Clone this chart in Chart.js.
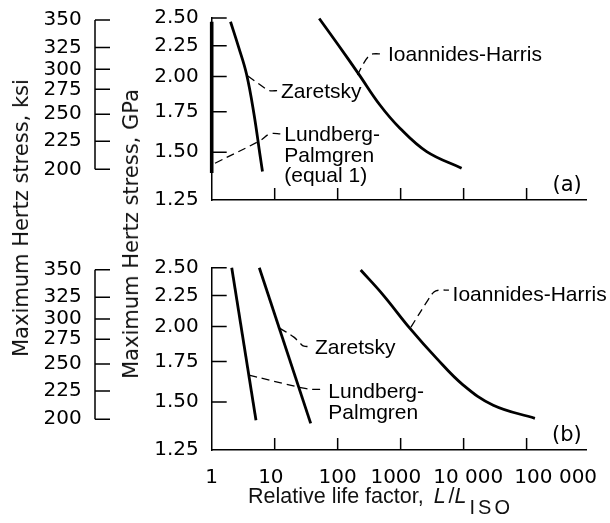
<!DOCTYPE html>
<html>
<head>
<meta charset="utf-8">
<script src="https://cdn.jsdelivr.net/npm/chart.js@4.4.1/dist/chart.umd.min.js"></script>
<style>
  body { margin: 0; background: #fff; }
  #wrap { position: relative; width: 610px; height: 523px; overflow: hidden; background: #fff; }
  canvas { position: absolute; left: 0; }
  #cA { top: 0; }
  #cB { top: 240px; }
  .ytitle {
    position: absolute; font: 21px "DejaVu Sans"; line-height: 24px; color: #111;
    white-space: nowrap; transform: translate(-50%, -50%) rotate(-90deg);
  }
  #xtitle {
    position: absolute; left: 248px; top: 484px; font: 21.5px "Liberation Sans";
    line-height: 24px; color: #111; white-space: nowrap;
  }
  #xtitle i { letter-spacing: 3px; }
  #xtitle i:first-child { margin-left: 4px; }
  #xtitle span { position: relative; top: 11px; font-size: 20px; letter-spacing: 3px; }
</style>
</head>
<body>
<div id="wrap">
  <canvas id="cA" width="610" height="240"></canvas>
  <canvas id="cB" width="610" height="283"></canvas>
  <div class="ytitle" style="left:20.5px; top:217.5px">Maximum Hertz stress, ksi</div>
  <div class="ytitle" style="left:130.5px; top:234px">Maximum Hertz stress, GPa</div>
  <div id="xtitle">Relative life factor, <i>L</i>/<i>L</i><span>ISO</span></div>
</div>
<script>
// ---- data: relative life L/L_ISO vs max Hertz stress (GPa) ----
// panel (a)
const lpA_L  = [1, 1];
const lpA_S  = [2.465, 1.385];
const zarA_L = [1.99, 2.66, 3.57, 4.69, 5.84, 6.40];
const zarA_S = [2.465, 2.242, 2.020, 1.735, 1.485, 1.393];
const ihA_L  = [51, 101, 212, 469, 975, 2590, 9290];
const ihA_S  = [2.495, 2.26, 2.025, 1.795, 1.643, 1.503, 1.411];
// panel (b)
const lpB_L  = [2.08, 5.05];
const lpB_S  = [2.50, 1.40];
const zarB_L = [5.7, 37.3];
const zarB_S = [2.50, 1.383];
const ihB_L  = [232, 529, 1406, 3726, 9860, 29500, 135500];
const ihB_S  = [2.478, 2.253, 1.985, 1.771, 1.600, 1.482, 1.410];

// ---- axes ----
const gpaTicks    = [1.25, 1.50, 1.75, 2.00, 2.25, 2.50];
const ksiLabels   = ['350', '325', '300', '275', '250', '225', '200'];
const ksiAtGpa    = [2.48, 2.235, 2.056, 1.905, 1.733, 1.564, 1.405];
const xTicks      = [10, 100, 1000, 10000, 100000];
const xTickLabels = ['1', '10', '100', '1000', '10 000', '100 000'];
const xLabelAt    = [1, 8.7, 100, 840, 11800, 290000];   // labels are spread out in the original

// ---- leader lines and notes (data units) ----
const zarA_lead = { L: [3.75, 7.02, 8.12, 11.5], S: [2.005, 1.913, 1.896, 1.896] };
const lpA_lead  = { L: [1.128, 5.84, 8.42, 12.9], S: [1.438, 1.567, 1.608, 1.608] };
const ihA_lead  = { L: [206, 261, 314, 363, 505], S: [2.012, 2.107, 2.163, 2.18, 2.18] };
const zarB_lead = { L: [12.0, 20.2, 25.2, 29.2, 39.1], S: [1.987, 1.920, 1.877, 1.855, 1.855] };
const lpB_lead  = { L: [3.9, 22.4, 30.3, 41.0, 59.1], S: [1.662, 1.590, 1.580, 1.574, 1.574] };
const ihB_lead  = { L: [1457, 2712, 3380, 4055, 5846], S: [1.995, 2.210, 2.280, 2.295, 2.295] };

const notesA = [
  { text: ['Zaretsky'], at: [12.6, 1.896] },
  { text: ['Lundberg-', 'Palmgren', '(equal 1)'], at: [14.2, 1.608] },
  { text: ['Ioannides-Harris'], at: [629, 2.18] }
];
const notesB = [
  { text: ['Zaretsky'], at: [43.6, 1.855] },
  { text: ['Lundberg-', 'Palmgren'], at: [71, 1.567] },
  { text: ['Ioannides-Harris'], at: [6680, 2.265] }
];

const INK = '#000';
const X_MAX = 9e5;

function pts(L, S) {
    return L.map((v, i) => ({ x: v, y: S[i] }));
}

function curve(L, S, width) {
    return {
        data: pts(L, S), borderColor: INK, borderWidth: width || 2.8,
        pointRadius: 0, tension: 0, clip: false
    };
}

function smooth(L, S) {
    return Object.assign(curve(L, S), { tension: 0.4 });
}

function leader(d) {
    return {
        data: pts(d.L, d.S), borderColor: INK, borderWidth: 1.3,
        borderDash: [8, 5], pointRadius: 0, tension: 0.4, clip: false
    };
}

// no extra room for the end labels, the layout padding handles it
function noOverflow(s) {
    s.paddingTop = 0; s.paddingBottom = 0; s.paddingLeft = 0; s.paddingRight = 0;
}

const decor = {
    id: 'decor',
    afterDraw(chart, args, o) {
        const { ctx, chartArea: a, scales } = chart;
        const x = scales.x, y = scales.y, k = scales.ksi;
        ctx.save();
        ctx.strokeStyle = INK;
        ctx.lineWidth = 1.5;
        ctx.beginPath();
        // inward ticks
        gpaTicks.slice(1).forEach(v => {
            const py = y.getPixelForValue(v);
            ctx.moveTo(a.left, py); ctx.lineTo(a.left + 15, py);
        });
        xTicks.forEach(v => {
            const px = x.getPixelForValue(v);
            ctx.moveTo(px, a.bottom); ctx.lineTo(px, a.bottom - 12);
        });
        // ksi bracket
        const kTop = k.getPixelForValue(ksiAtGpa[0]);
        const kBot = k.getPixelForValue(ksiAtGpa[ksiAtGpa.length - 1]);
        ctx.moveTo(k.right, kTop); ctx.lineTo(k.right, kBot);
        ksiAtGpa.forEach(v => {
            const py = k.getPixelForValue(v);
            ctx.moveTo(k.right, py); ctx.lineTo(k.right + 15, py);
        });
        ctx.stroke();

        ctx.fillStyle = INK;
        ctx.textBaseline = 'alphabetic';
        ctx.font = '21px "Liberation Sans"';
        o.notes.forEach(n => {
            const px = x.getPixelForValue(n.at[0]);
            const py = y.getPixelForValue(n.at[1]);
            n.text.forEach((t, i) => ctx.fillText(t, px, py + 7.5 + i * 20.5));
        });
        ctx.font = '21px "DejaVu Sans"';
        ctx.textAlign = 'right';
        ctx.fillText(o.tag, a.right - 5, a.bottom - 17 + 7.7);
        ctx.restore();
    }
};

function makePanel(id, datasets, notes, tag, showX, padTop, xAxisHeight) {
    const tickFont = { family: 'DejaVu Sans', size: 20 };
    return new Chart(document.getElementById(id), {
        type: 'line',
        data: { datasets: datasets },
        plugins: [decor],
        options: {
            responsive: false,
            animation: false,
            devicePixelRatio: 1,
            layout: { padding: { top: padTop, right: 23.3, left: 0, bottom: 0 } },
            plugins: {
                legend: { display: false },
                tooltip: { enabled: false },
                decor: { notes: notes, tag: tag }
            },
            scales: {
                x: {
                    type: 'logarithmic', min: 1, max: X_MAX, position: 'bottom',
                    afterBuildTicks: s => { s.ticks = xLabelAt.map(v => ({ value: v })); },
                    afterFit: s => { s.height = xAxisHeight; noOverflow(s); },
                    grid: { display: false, drawTicks: false },
                    border: { display: true, color: INK, width: 1.5 },
                    ticks: {
                        display: showX, autoSkip: false, maxRotation: 0, padding: 15.5,
                        color: INK, font: tickFont,
                        callback: (v, i) => xTickLabels[i]
                    }
                },
                y: {
                    type: 'logarithmic', min: 1.25, max: 2.5, position: 'left', weight: 0,
                    afterBuildTicks: s => { s.ticks = gpaTicks.map(v => ({ value: v })); },
                    afterFit: s => { s.width = 116.7; noOverflow(s); },
                    grid: { display: false, drawTicks: false },
                    border: { display: true, color: INK, width: 1.5 },
                    ticks: {
                        autoSkip: false, padding: 13, color: INK, font: tickFont,
                        callback: v => Number(v).toFixed(2)
                    }
                },
                ksi: {
                    type: 'logarithmic', min: 1.25, max: 2.5, position: 'left', weight: 1,
                    afterBuildTicks: s => { s.ticks = ksiAtGpa.map(v => ({ value: v })); },
                    afterFit: s => { s.width = 95; noOverflow(s); },
                    grid: { display: false, drawTicks: false },
                    border: { display: false },
                    ticks: {
                        autoSkip: false, padding: 13.3, color: INK, font: tickFont,
                        callback: (v, i) => ksiLabels[i]
                    }
                }
            }
        }
    });
}

makePanel('cA', [
    curve(lpA_L, lpA_S, 3.6),
    smooth(zarA_L, zarA_S),
    smooth(ihA_L, ihA_S),
    leader(zarA_lead), leader(lpA_lead), leader(ihA_lead)
], notesA, '(a)', false, 18, 40);

makePanel('cB', [
    curve(lpB_L, lpB_S),
    curve(zarB_L, zarB_S),
    smooth(ihB_L, ihB_S),
    leader(zarB_lead), leader(lpB_lead), leader(ihB_lead)
], notesB, '(b)', true, 27.7, 73);
</script>
</body>
</html>
